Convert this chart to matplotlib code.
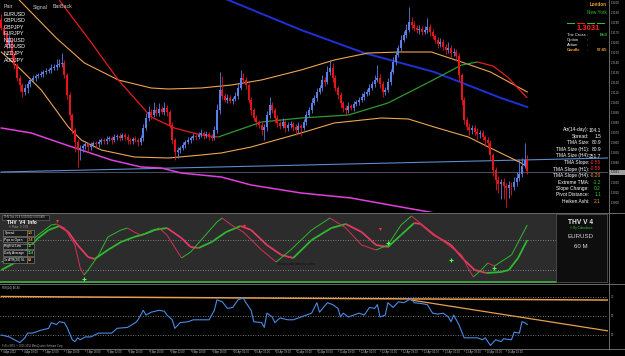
import numpy as np
import matplotlib
matplotlib.use('Agg')
import matplotlib.pyplot as plt
from matplotlib.collections import LineCollection
from matplotlib.patches import Rectangle
from matplotlib.transforms import Affine2D, blended_transform_factory

plt.rcParams['font.family'] = ['Liberation Sans', 'DejaVu Sans']

W, H = 625, 356

# EURUSD H1, prices in points (1 pt = 0.0001)
first_open = 13183
closes = [13175, 13168, 13158, 13163, 13148, 13138, 13125, 13118, 13111, 13115,
          13119, 13123, 13125, 13127, 13128, 13129, 13131, 13132, 13133, 13135,
          13136, 13138, 13139, 13140, 13128, 13108, 13088, 13073, 13061, 13053,
          13055, 13057, 13059, 13056, 13058, 13060, 13059, 13061, 13063, 13062,
          13064, 13065, 13063, 13066, 13067, 13065, 13068, 13066, 13063, 13062,
          13064, 13063, 13061, 13065, 13075, 13085, 13091, 13088, 13093, 13090,
          13094, 13091, 13095, 13091, 13078, 13063, 13051, 13053, 13055, 13058,
          13061, 13063, 13065, 13067, 13066, 13068, 13070, 13067, 13069, 13066,
          13065, 13073, 13093, 13113, 13107, 13103, 13105, 13102, 13104, 13107,
          13115, 13125, 13123, 13118, 13103, 13093, 13085, 13081, 13078, 13073,
          13076, 13088, 13098, 13093, 13085, 13080, 13077, 13081, 13075, 13078,
          13079, 13076, 13073, 13077, 13075, 13081, 13088, 13093, 13100, 13105,
          13111, 13115, 13123, 13121, 13131, 13135, 13125, 13115, 13108, 13100,
          13095, 13093, 13097, 13095, 13099, 13101, 13103, 13106, 13109, 13111,
          13115, 13119, 13123, 13125, 13119, 13111, 13113, 13121, 13131, 13141,
          13148, 13155, 13163, 13168, 13173, 13181, 13178, 13175, 13173, 13174,
          13171, 13173, 13176, 13171, 13167, 13163, 13159, 13161, 13156, 13153,
          13155, 13150, 13151, 13147, 13128, 13103, 13083, 13076, 13073, 13075,
          13071, 13069, 13070, 13066, 13063, 13060, 13048, 13033, 13023, 13019,
          13021, 13017, 13015, 13018, 13016, 13021, 13025, 13029, 13037, 13043,
          13032]
wick_hi = [6, 3, 4, 5, 2, 3, 2, 3, 2, 4, 3, 2, 3, 2, 2, 3, 2, 3, 2, 4,
           3, 6, 5, 10, 3, 2, 3, 2, 2, 3, 3, 2, 3, 2, 3, 2, 2, 3, 2, 2,
           3, 2, 2, 3, 2, 3, 2, 2, 3, 2, 2, 3, 2, 3, 4, 5, 6, 3, 8, 3,
           6, 3, 6, 3, 2, 3, 2, 3, 2, 3, 2, 3, 2, 3, 2, 3, 4, 2, 3, 2,
           3, 4, 6, 18, 14, 3, 4, 3, 2, 4, 5, 8, 5, 3, 2, 3, 2, 3, 2, 3,
           3, 4, 8, 3, 2, 3, 2, 4, 2, 3, 3, 2, 3, 4, 2, 3, 4, 3, 5, 3,
           4, 3, 5, 3, 6, 8, 5, 3, 2, 3, 2, 3, 4, 2, 3, 2, 3, 4, 3, 3,
           4, 3, 5, 13, 4, 3, 3, 4, 3, 5, 4, 3, 5, 4, 6, 15, 5, 4, 3, 4,
           3, 4, 9, 3, 3, 2, 3, 4, 3, 3, 6, 3, 4, 3, 3, 2, 3, 3, 4, 3,
           3, 4, 3, 3, 2, 3, 3, 2, 3, 4, 3, 4, 3, 4, 3, 5, 6, 15, 8, 17,
           5]
wick_lo = [2, 3, 4, 3, 5, 4, 3, 6, 5, 3, 5, 3, 2, 3, 2, 2, 3, 2, 2, 3,
           2, 3, 2, 3, 3, 4, 5, 4, 10, 17, 10, 4, 3, 5, 3, 2, 4, 3, 2, 3,
           3, 2, 4, 2, 3, 3, 2, 3, 4, 3, 3, 2, 4, 3, 3, 2, 3, 4, 2, 3,
           3, 2, 3, 4, 3, 4, 8, 6, 3, 2, 3, 2, 3, 2, 3, 2, 2, 3, 2, 3,
           3, 2, 3, 4, 3, 2, 3, 2, 3, 2, 3, 2, 3, 4, 3, 5, 3, 4, 3, 5,
           10, 4, 3, 3, 5, 4, 3, 2, 4, 3, 3, 4, 5, 3, 8, 2, 3, 2, 3, 2,
           3, 2, 3, 4, 2, 3, 4, 3, 4, 5, 4, 5, 3, 2, 3, 2, 3, 2, 3, 2,
           3, 2, 3, 2, 4, 5, 3, 2, 3, 2, 3, 2, 3, 2, 3, 2, 4, 3, 3, 4,
           3, 2, 3, 4, 3, 3, 4, 3, 3, 4, 3, 4, 3, 5, 6, 5, 4, 3, 5, 4,
           3, 5, 4, 3, 6, 4, 5, 6, 10, 9, 15, 13, 19, 10, 8, 3, 4, 3, 3, 2,
           3]
bid = 13031

# TMA bands and moving averages (bar index, points)
tma_up_bar = [0, 6.8, 20.9, 31.6, 44.5, 57, 63.5, 76, 87.5, 98.9, 114, 126.6, 139.5, 152, 163.5, 175, 186, 200]
tma_up_val = [13223, 13203, 13165, 13140, 13123, 13115, 13114, 13115, 13118, 13123, 13133, 13143, 13150, 13151, 13151, 13141, 13131, 13111]
tma_lo_bar = [0, 7.6, 15.2, 25.5, 30.4, 38, 50.6, 63.5, 76, 83.6, 95, 114, 126.6, 144.5, 154.8, 164.6, 177.6, 186, 197.7, 200]
tma_lo_val = [13151, 13133, 13113, 13076, 13063, 13053, 13046, 13045, 13048, 13050, 13056, 13070, 13080, 13085, 13084, 13076, 13066, 13055, 13040, 13036]
tma_mid_bar = [19, 22, 33.5, 44.5, 57, 65.8, 76, 82.5, 98.9, 114, 132, 147, 162, 175, 181, 187, 192.5, 200]
tma_mid_val = [13218, 13203, 13163, 13123, 13086, 13075, 13068, 13066, 13081, 13085, 13088, 13100, 13120, 13138, 13141, 13137, 13126, 13105]
ma_blue_bar = [76, 86.3, 114, 138, 164.6, 190, 200]
ma_blue_val = [13213, 13203, 13173, 13150, 13131, 13105, 13096]
ma_mag_bar = [0, 11.4, 24.7, 30.4, 41.8, 53.2, 60.8, 68.4, 76, 83.6, 95, 114, 133, 152, 167]
ma_mag_val = [13075, 13070, 13058, 13053, 13043, 13036, 13035, 13030, 13028, 13026, 13018, 13010, 13005, 12996, 12989]
trend_bar = [0, 231]
trend_val = [13031, 13045]

# THV oscillator (panel units)
fast_bar = [0, 5, 9.5, 14, 19, 21, 24, 28, 30, 31.5, 33, 37, 40.5, 45.5, 48, 50.5, 53, 57, 60, 63,
            68.5, 72, 77, 82, 84, 87.5, 92, 99, 104.5, 110, 118, 125, 131, 137, 142.5, 147, 152, 156, 161.5, 169,
            175, 177.5, 179.5, 182.5, 185, 187.5, 194, 200]
fast_val = [20, 24, 37, 47, 57, 58, 54, 37, 14, 7, 12, 27, 45, 52, 54, 50, 47, 50, 54, 47,
            24, 30, 45, 60, 64, 57, 50, 32, 20, 32, 52, 64, 54, 37, 32, 37, 57, 66, 54, 39,
            27, 14, 5, 12, 19, 16, 27, 57]
slow_bar = [0, 5, 14, 18, 22, 25.5, 29, 33, 35.5, 40.5, 45.5, 50.5, 54.5, 58, 63, 68.5, 72, 75, 80, 85.5,
            91, 95, 101, 106.5, 111, 118, 125.5, 131, 137, 142.5, 147, 152, 157, 159.5, 164.5, 171, 176, 180, 184.5, 190,
            193, 196.5, 200]
slow_val = [12, 19, 44, 52, 56, 50, 37, 25, 23, 32, 40, 45, 48, 52, 54, 44, 35, 34, 40, 50,
            56, 52, 37, 27, 24, 42, 54, 58, 50, 37, 35, 47, 59, 58, 47, 37, 22, 12, 9, 10,
            12, 24, 42]
sell_bar = [21, 92.4, 144]
sell_val = [61, 56, 53]
buy_bar = [31.5, 147, 171, 187.5]
buy_val = [3, 39, 22, 14]
osc_levels = [42, 12]

# RSI(14)
rsi_bar = [0, 3, 5, 7, 9, 10, 12, 15, 18, 19, 21, 22, 24, 25, 27, 28, 29, 30, 32, 34,
           37, 42, 44, 48, 51, 52, 54, 55, 57, 60, 62, 63, 65, 66, 68, 71, 73, 76, 79, 81,
           82, 84, 86, 88, 90, 92, 93, 95, 96, 99, 100, 101, 103, 104, 106, 109, 111, 114, 117, 118,
           120, 121, 124, 126, 128, 129, 130, 132, 134, 136, 138, 140, 142, 143, 144, 146, 147, 149, 151, 153,
           155, 156, 157, 160, 162, 164, 166, 168, 170, 171, 172, 174, 176, 179, 181, 183, 184, 186, 187, 188,
           190, 191, 194, 195, 197, 198, 199, 200]
rsi_val = [30, 28, 25, 22, 27, 32, 32, 35, 37, 43, 41, 44, 43, 38, 25, 23, 27, 25, 28, 28,
           32, 32, 37, 38, 43, 46, 56, 51, 54, 56, 55, 51, 46, 37, 43, 44, 46, 46, 46, 56,
           67, 65, 58, 59, 67, 69, 64, 56, 44, 43, 38, 53, 49, 43, 48, 46, 46, 49, 52, 53,
           64, 54, 64, 62, 58, 49, 53, 49, 51, 53, 51, 59, 58, 62, 49, 51, 64, 59, 65, 64,
           67, 68, 64, 63, 62, 53, 52, 53, 49, 44, 51, 41, 27, 27, 27, 25, 27, 19, 22, 25,
           23, 26, 25, 33, 32, 44, 43, 41]
rsi_levels = [70, 50, 30]
rsi_tl_bar = [0, 231]
rsi_tl_val = [70.5, 66.8]
rsi_tl2_bar = [155.9, 231]
rsi_tl2_val = [66.8, 34.2]

date_labels = ['4 Apr 2012', '4 Apr 18:00', '5 Apr 02:00', '5 Apr 10:00', '5 Apr 18:00',
               '6 Apr 02:00', '6 Apr 10:00', '6 Apr 18:00', '9 Apr 02:00', '9 Apr 10:00',
               '9 Apr 18:00', '10 Apr 02:00', '10 Apr 10:00', '10 Apr 18:00', '11 Apr 02:00',
               '11 Apr 10:00', '11 Apr 18:00', '12 Apr 02:00', '12 Apr 10:00', '12 Apr 18:00',
               '13 Apr 02:00', '13 Apr 10:00', '13 Apr 18:00', '16 Apr 02:00', '16 Apr 10:00']

pairs = ['EURUSD', 'GBPUSD', 'GBPJPY', 'EURJPY', 'NZDUSD', 'AUDUSD', 'NZDJPY', 'AUDJPY']
stat_names = ['Atr(14-day):', 'Spread:', 'TMA Size:', 'TMA Size (H1):', 'TMA Size (H4):',
              'TMA Slope:', 'TMA Slope (H1):', 'TMA Slope (H4):', 'Extreme TMA:',
              'Slope Change:', 'Pivot Distance:', 'Heiken Ashi:']
stat_vals = ['104.1', '1.5', '80.9', '80.9', '251.7', '-0.55', '-0.55', '-0.20', '-1.2', '0.2', '1.1', '2.1']
stat_cols = ['white'] * 5 + ['#ff2a2a', '#ff2a2a', '#ff9a1a', '#33cc33', '#33cc33', '#33cc33', '#e8a030']
info_names = ['Spread', 'Pips to Open', 'High to Low', 'Daily Average', '3x ATR(20) SL']
info_vals = ['1.5', '-34', '30', '114', '68']
info_cols = ['#ff9a1a', '#ff7a1a', '#33cc33', '#33cc33', '#ffa020']

BLUE = '#5b7fe6'
RED = '#e8141c'
ORANGE = '#eea552'

fig = plt.figure(figsize=(W / 100, H / 100), dpi=100, facecolor='black')
pix = Affine2D().scale(1 / W, -1 / H).translate(0, 1) + fig.transFigure


def px_axes(x0, y0, x1, y1):
    a = fig.add_axes([x0 / W, 1 - y1 / H, (x1 - x0) / W, (y1 - y0) / H])
    a.set_facecolor('black')
    a.set_xticks([])
    a.set_yticks([])
    for s in a.spines.values():
        s.set_visible(False)
    a.set_xlim(-0.5, 230.7)
    return a


def put(x, y, s, size=4, color='white', ha='left', weight='normal'):
    fig.text(x, y, s, transform=pix, fontsize=size, color=color, ha=ha, va='center', fontweight=weight)


def slope_line(a, xs, ys, lw, up_col, dn_col, z=3):
    p = np.column_stack([xs, ys])
    segs = np.stack([p[:-1], p[1:]], axis=1)
    cols = [up_col if q[1] >= r[1] else dn_col for r, q in zip(p[:-1], p[1:])]
    a.add_collection(LineCollection(segs, colors=cols, linewidths=lw, zorder=z))


# ---------------- main price chart ----------------
ax = px_axes(0, 0, 608, 212)
ax.set_ylim(1.2991, 1.3203)
c = np.array(closes) / 1e4
o = np.concatenate([[first_open / 1e4], c[:-1]])
hi = np.maximum(o, c) + np.array(wick_hi) / 1e4
lo = np.minimum(o, c) - np.array(wick_lo) / 1e4
idx = np.arange(len(c))
col = np.where(c >= o, BLUE, RED)
ax.vlines(idx, lo, hi, colors=col, lw=0.6, zorder=4)
body = np.maximum(np.abs(c - o), 0.00006)
ax.bar(idx, body, bottom=np.minimum(o, c), width=0.75, color=col, linewidth=0, zorder=4)

ax.axhline(bid / 1e4, color='#4a4a5a', lw=0.8, zorder=2)
ax.plot(trend_bar, np.array(trend_val) / 1e4, color='#5a8ccc', lw=0.8, zorder=2)
ax.plot(ma_mag_bar, np.array(ma_mag_val) / 1e4, color='#e040e0', lw=1.1, zorder=3)
ax.plot(ma_blue_bar, np.array(ma_blue_val) / 1e4, color='#1f30d8', lw=1.4, zorder=3)
ax.plot(tma_up_bar, np.array(tma_up_val) / 1e4, color=ORANGE, lw=0.8, zorder=3)
ax.plot(tma_lo_bar, np.array(tma_lo_val) / 1e4, color=ORANGE, lw=0.8, zorder=3)
slope_line(ax, tma_mid_bar, np.array(tma_mid_val) / 1e4, 0.9, '#2f9a2f', '#e81c1c')

# price scale
ptr = blended_transform_factory(pix, ax.transData)
for p in np.arange(1.3000, 1.3200, 0.0010):
    fig.text(611, p, f'{p:.4f}', transform=ptr, fontsize=2.1, color='#b0b0b0', va='center')
fig.add_artist(Rectangle((609, 169.5), 16, 5, transform=pix, facecolor='#a0a0a0', edgecolor='none'))
put(611, 172, f'{bid / 1e4:.4f}', size=2.1, color='black')

# top-left pair table
put(4, 7, 'Pair', size=3.8, color='#c8c8c8')
put(33, 7, 'Signal', size=3.8, color='#c8c8c8')
put(53, 7, 'BarBack', size=3.8, color='#c8c8c8')
for i, name in enumerate(pairs):
    put(4, 14 + 6.6 * i, name, size=3.8)

# top-right session info
put(607, 5, 'London', size=3.3, color='#f0a030', ha='right', weight='bold')
put(607, 12, 'New York', size=3.3, color='#2fbf2f', ha='right')
for k, dc in enumerate(['#2fbf2f', '#e82020', '#2fbf2f', '#2fbf2f']):
    fig.add_artist(Rectangle((567 + 10 * k, 22.5), 8, 1.6, transform=pix, facecolor=dc, edgecolor='none'))
put(588, 29, '1.3031', size=5.5, color='#ff2020', ha='center', weight='bold')
for k, (lab, val, vc) in enumerate([('Tric Cross', 'Bull', '#2fbf2f'), ('Option', '', 'white'),
                                     ('Action', '', 'white'), ('Candle', '57:05', '#f0a030')]):
    lc = '#f0a030' if lab == 'Candle' else 'white'
    y = 34.5 + 5.3 * k
    put(567, y, lab, size=3, color=lc, weight='bold' if lab == 'Candle' else 'normal')
    put(587, y, ':', size=3, color=lc)
    put(607, y, val, size=3, color=vc, ha='right', weight='bold')

# right stats block
for k, (lab, val, vc) in enumerate(zip(stat_names, stat_vals, stat_cols)):
    y = 130 + 6.5 * k
    put(589, y, lab, size=3.5, color='white', ha='right')
    put(601, y, val, size=3.5, color=vc, ha='right')

# ---------------- THV oscillator ----------------
osc = px_axes(0, 214, 608, 283)
osc.set_ylim(-1, 68)
osc.axvspan(-0.5, 210.9, color='#2c2c2c', zorder=0, lw=0)
for lv in osc_levels:
    osc.plot([-0.5, 210.9], [lv, lv], color='#9a9a9a', lw=0.6, ls=(0, (1, 2)), zorder=1)
osc.plot([-0.5, 210.9], [0, 0], color='#3fa03f', lw=1.4, zorder=2)
slope_line(osc, slow_bar, slow_val, 1.3, '#2fb82f', '#e23a62')
slope_line(osc, fast_bar, fast_val, 0.7, '#2fb82f', '#d83050')
osc.scatter(sell_bar, sell_val, marker='v', s=5, color='#ff3030', zorder=5, lw=0)
osc.scatter(buy_bar, buy_val, marker='+', s=8, color='#50ff50', zorder=5, lw=0.8)
osc.text(112, 18, 'www.cobraforex.com', fontsize=3, color='#101010', ha='center', va='center')

# left info panel
fig.add_artist(Rectangle((2, 214.5), 47, 5, transform=pix, facecolor='#151515', edgecolor='#707070', lw=0.4))
put(4, 217, 'THV Tric V1 4 0.000042 0.000408', size=1.9, color='#c0c0c0')
put(7, 222, 'THV  V4  Info', size=3.4, color='white', weight='bold')
put(9, 226.5, '® Pulse: 0  0.00', size=1.9, color='#a0a0a0')
for k, (lab, val, vc) in enumerate(zip(info_names, info_vals, info_cols)):
    y = 233 + 6.7 * k
    fig.add_artist(Rectangle((3, y - 2.8), 24, 5.6, transform=pix, facecolor='#1a1a1a', edgecolor='#8a8a8a', lw=0.4))
    fig.add_artist(Rectangle((27, y - 2.8), 7, 5.6, transform=pix, facecolor='#1a1a1a', edgecolor='#8a8a8a', lw=0.4))
    put(4.5, y, lab, size=2.3, color='white')
    put(30.5, y, val, size=2.7, color=vc, ha='center', weight='bold')

# right info box
fig.add_artist(Rectangle((556, 214), 51, 68, transform=pix, facecolor='#0e0e0e', edgecolor='#606060', lw=0.5))
put(581, 222, 'THV V 4', size=4.8, color='#e8e8e8', ha='center', weight='bold')
put(581, 228, '® By Cobraforex', size=2.2, color='#30c030', ha='center')
put(581, 237, 'EURUSD', size=4.4, color='#d8d8d8', ha='center')
put(581, 246, '60 M', size=4.4, color='#d8d8d8', ha='center')

# ---------------- RSI ----------------
rsi = px_axes(0, 286, 608, 348)
rsi.set_ylim(16.3, 81.6)
for lv in rsi_levels:
    rsi.axhline(lv, color='#9a9a9a', lw=0.6, ls=(0, (1, 2)), zorder=1)
rsi.plot(rsi_tl_bar, rsi_tl_val, color='#e8a050', lw=1.1, zorder=2)
rsi.plot(rsi_tl2_bar, rsi_tl2_val, color='#e8a050', lw=0.9, zorder=2)
rsi.plot(rsi_bar, rsi_val, color='#4a8ae8', lw=0.8, zorder=3)
rtr = blended_transform_factory(pix, rsi.transData)
for lv in rsi_levels:
    fig.text(611, lv, str(lv), transform=rtr, fontsize=2.1, color='#b0b0b0', va='center')
put(2, 287.5, 'RSI(14) 46.46', size=2.1, color='#c0c0c0')
put(2, 346, 'FxPro MT4, © 2001-2011 MetaQuotes Software Corp.', size=1.8, color='#a0a0a0')

# separators and axis frame
for y in [213, 283.5, 349]:
    fig.add_artist(plt.Line2D([0, 625], [y, y], transform=pix, color='#7a7a7a', lw=0.6))
fig.add_artist(plt.Line2D([608.5, 608.5], [0, 349], transform=pix, color='#7a7a7a', lw=0.6))

# date axis
dtr = blended_transform_factory(rsi.transData, pix)
for k, lab in enumerate(date_labels):
    b = 8 * k
    fig.add_artist(plt.Line2D([b, b], [349, 351], transform=dtr, color='#7a7a7a', lw=0.4))
    fig.text(b + 0.6, 352.5, lab, transform=dtr, fontsize=1.9, color='#c0c0c0', va='center')

fig.savefig('out.png', dpi=100, facecolor='black')
